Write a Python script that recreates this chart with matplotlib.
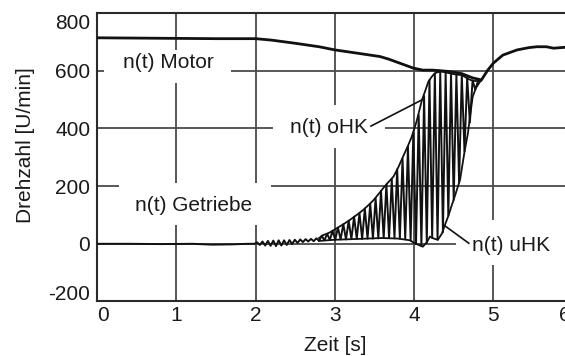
import matplotlib
matplotlib.use("Agg")
import matplotlib.pyplot as plt
from matplotlib.patches import Rectangle
from matplotlib.transforms import ScaledTranslation

plt.rcParams['font.family'] = ['Liberation Sans', 'DejaVu Sans']
plt.rcParams['axes.unicode_minus'] = False

# ---------------- data ----------------
x_ticks = [0, 1, 2, 3, 4, 5, 6]
y_ticks = [-200, 0, 200, 400, 600, 800]

motor_t = [0.0, 0.5, 1.0, 1.5, 2.0, 2.2, 2.5, 2.8, 3.0, 3.3, 3.57, 3.68, 3.82, 3.99,
           4.11, 4.23, 4.33, 4.45, 4.6, 4.74, 4.85, 4.93, 5.0, 5.12, 5.3, 5.45,
           5.55, 5.67, 5.76, 5.9, 6.0]
motor_n = [714, 713, 712, 711, 711, 706, 695, 683, 672, 660, 649, 640, 626, 609,
           602, 602, 600, 597, 590, 575, 568, 602, 626, 654, 672, 680,
           683, 683, 678, 681, 681]

# gearbox speed (raw signal, zigzag between upper and lower clutch envelope)
getriebe_t = [0.0, 0.4, 0.8, 1.2, 1.45, 1.7, 1.9,
              1.984, 2.018, 2.052, 2.086, 2.120, 2.154, 2.188, 2.222, 2.256, 2.290,
              2.324, 2.358, 2.392, 2.426, 2.460, 2.494, 2.528, 2.562, 2.596, 2.630,
              2.664, 2.698, 2.732, 2.766,
              2.800, 2.834, 2.868, 2.902, 2.936, 2.970, 3.004, 3.038, 3.072, 3.106,
              3.140, 3.174, 3.208, 3.242, 3.276, 3.310, 3.344, 3.378, 3.412, 3.446,
              3.480, 3.514, 3.548, 3.582, 3.616, 3.650, 3.684, 3.718, 3.752, 3.786,
              3.820, 3.854, 3.888, 3.922, 3.956, 3.990, 4.024, 4.058, 4.092, 4.126,
              4.160, 4.194, 4.228, 4.262, 4.296, 4.330, 4.364, 4.398, 4.432, 4.466,
              4.500, 4.534, 4.568, 4.602, 4.636, 4.670, 4.704, 4.738, 4.772, 4.806,
              4.840]
getriebe_n = [0, 0, -1, 0, -3, -2, 0,
              0, 5, -4, 8, -6, 10, -7, 11, -8, 12,
              -6, 12, -4, 13, -1, 14, 3, 15, 6, 16,
              8, 17, 9, 19,
              10, 28, 12, 35, 13, 45, 14, 56, 15, 68,
              15, 80, 16, 94, 17, 107, 17, 122, 18, 138,
              18, 158, 19, 183, 20, 206, 20, 224, 19, 258,
              18, 295, 16, 338, 11, 383, -1, 446, -8, 512,
              4, 568, 20, 590, 14, 596, 40, 594, 97, 590,
              152, 587, 212, 585, 320, 576, 420, 566, 535, 563,
              565]

# upper clutch half (oHK) envelope
ohk_t = [2.80, 2.85, 2.90, 2.94, 3.00, 3.06, 3.12, 3.19, 3.25, 3.30, 3.36, 3.42,
         3.49, 3.55, 3.61, 3.67, 3.74, 3.80, 3.86, 3.92, 3.97, 4.03, 4.10, 4.14,
         4.18, 4.22, 4.26, 4.30, 4.35, 4.40, 4.45, 4.50, 4.55, 4.60, 4.65, 4.71,
         4.77, 4.84]
ohk_n = [20, 30, 35, 40, 50, 60, 70, 83, 95, 105, 118, 133,
         152, 172, 193, 212, 233, 265, 302, 338, 371, 423, 499, 530,
         562, 578, 591, 595, 597, 594, 591, 588, 586, 585, 577, 568,
         564, 565]

# lower clutch half (uHK) envelope
uhk_t = [2.80, 3.00, 3.20, 3.40, 3.60, 3.80, 3.95, 4.00, 4.05, 4.11, 4.16, 4.20,
         4.25, 4.30, 4.35, 4.39, 4.43, 4.47, 4.52, 4.58, 4.64, 4.68, 4.71, 4.74,
         4.78, 4.84]
uhk_n = [10, 14, 16, 18, 20, 18, 12, 3, -3, -10, 5, 25,
         18, 14, 35, 66, 95, 129, 170, 222, 325, 384, 450, 510,
         540, 565]

# ---------------- figure ----------------
fig = plt.figure(figsize=(5.65, 3.56), dpi=100)
ax = fig.add_axes([0.1722, 0.1531, 0.8411, 0.8104])

ax.set_xlim(0, 6)
ax.set_ylim(-200, 800)
ax.set_xticks(x_ticks)
ax.set_yticks(y_ticks)
ax.set_axisbelow(True)
ax.grid(True, color='#4a4a4a', linewidth=1.3)

for s in ['left', 'bottom', 'top']:
    ax.spines[s].set_color('#2a2a2a')
    ax.spines[s].set_linewidth(1.5)
ax.spines['right'].set_visible(False)

ax.tick_params(axis='both', length=0, labelsize=15, colors='#1a1a1a')
ax.tick_params(axis='y', pad=5)
ax.tick_params(axis='x', pad=3)

# white label boxes interrupting the grid
boxes = [
    (0.085, 557, 1.603, 115),   # Motor
    (2.22, 332, 1.41, 150),     # oHK
    (0.274, 66, 1.92, 145),     # Getriebe
    (4.53, -73, 1.6, 156),      # uHK
]
for (bx, by, bw, bh) in boxes:
    ax.add_patch(Rectangle((bx, by), bw, bh, facecolor='white', edgecolor='none', zorder=1))

ax.plot(motor_t, motor_n, color='#111111', linewidth=2.0, zorder=3)
ax.plot(getriebe_t, getriebe_n, color='#111111', linewidth=1.4, zorder=3)
ax.plot(ohk_t, ohk_n, color='#111111', linewidth=1.3, zorder=3)
ax.plot(uhk_t, uhk_n, color='#111111', linewidth=1.3, zorder=3)

# leader lines
ax.plot([3.455, 4.10], [408, 499], color='#111111', linewidth=1.2, zorder=3)
ax.plot([4.39, 4.69], [62, 2], color='#111111', linewidth=1.2, zorder=3)

tk = dict(fontsize=15, color='#1a1a1a', ha='center', va='center', zorder=4)
ax.text(0.899, 628, 'n(t) Motor', **tk)
ax.text(2.93, 403, 'n(t) oHK', **tk)
ax.text(1.221, 133, 'n(t) Getriebe', **tk)
ax.text(5.23, -5, 'n(t) uHK', **tk)

ax.set_xlabel('Zeit [s]', fontsize=15, color='#1a1a1a')
ax.set_ylabel('Drehzahl [U/min]', fontsize=15, color='#1a1a1a')
ax.xaxis.label.set_va('center')
ax.yaxis.label.set_va('center')
ax.xaxis.set_label_coords(0.5, -0.153)
ax.yaxis.set_label_coords(-0.152, 0.541)

# shift outermost tick labels inward as in the reference
fig.canvas.draw()
xl = ax.get_xticklabels()
xl[0].set_transform(xl[0].get_transform() + ScaledTranslation(0.06, 0, fig.dpi_scale_trans))
xl[-1].set_transform(xl[-1].get_transform() + ScaledTranslation(-0.08, 0, fig.dpi_scale_trans))
yl = ax.get_yticklabels()
yl[0].set_transform(yl[0].get_transform() + ScaledTranslation(0, 0.086, fig.dpi_scale_trans))
yl[-1].set_transform(yl[-1].get_transform() + ScaledTranslation(0, -0.09, fig.dpi_scale_trans))

fig.savefig('out.png', dpi=100)
